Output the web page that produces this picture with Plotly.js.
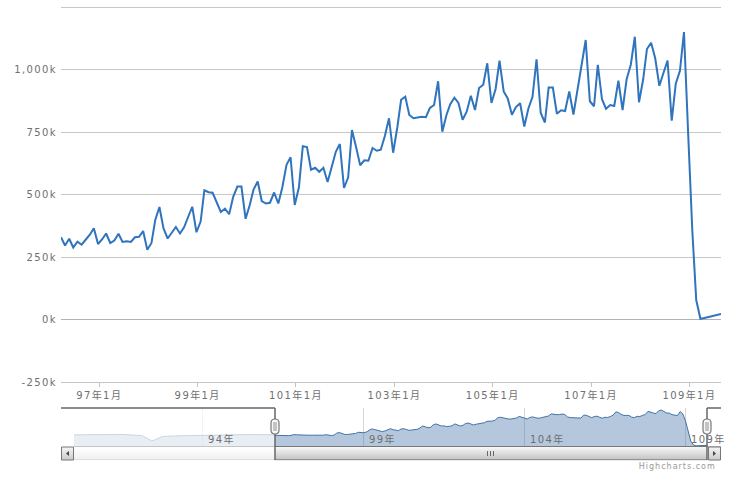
<!DOCTYPE html>
<html><head><meta charset="utf-8">
<script src="https://cdn.plot.ly/plotly-3.0.1.min.js"></script>
<style>
html,body{margin:0;padding:0;background:#fff}
.xtick text,.ytick text,.annotation-text{letter-spacing:1.4px}
.annotation:last-child .annotation-text{letter-spacing:1px}
</style></head><body>
<div id="chart" style="width:740px;height:488px"></div>
<script>
const mainValues=[329,296,323,288,311,299,319,339,365,302,321,344,306,316,343,310,313,310,329,331,354,279,306,398,450,365,324,345,370,344,369,411,451,349,392,517,509,507,471,430,443,421,491,532,532,403,458,520,552,474,464,467,508,464,
529,619,649,458,529,693,690,599,607,591,607,550,609,671,702,526,569,758,689,617,637,635,686,675,679,735,805,667,769,879,891,818,805,807,811,809,846,858,953,751,818,861,887,866,799,831,895,838,926,939,1025,866,922,1035,
912,884,819,850,865,772,843,891,1041,826,788,928,928,823,837,834,912,820,918,1026,1118,873,853,1019,881,843,858,854,955,838,961,1019,1131,869,961,1082,1107,1046,935,985,1036,795,943,995,1150,
745,355,78,3,6,10,14,18,22];
const earlierValues=[330,335,340,345,340,335,345,350,345,340,335,340,350,355,345,340,345,350,345,340,335,345,350,340,330,320,290,240,170,140,165,225,265,285,290,295,300,305,300,295,300,310,315,310,305,315,320,325,320,315,320,330,325,320,330,335,330,325,335,340,335,330,335,345,340,335,345,350,340,335,345,360,350,340,335];
const xTickDates=["2008-01-10","2010-01-10","2012-01-10","2014-01-10","2016-01-10","2018-01-10","2020-01-10"];
const xTickLabels=["97年1月","99年1月","101年1月","103年1月","105年1月","107年1月","109年1月"];
const yTickValues=[-250,0,250,500,750,1000,1250];
const yTickLabels=["-250k","0k","250k","500k","750k","1,000k","\u00a0"];
const navTickDates=["2005-01-01","2010-01-01","2015-01-01","2020-01-01"];
const navTickLabels=["94年","99年","104年","109年"];

function monthDates(y,m,n){const out=[];for(let i=0;i<n;i++){const t=y*12+(m-1)+i;out.push(Math.floor(t/12)+"-"+String(t%12+1).padStart(2,"0")+"-01");}return out;}
const mainDates=monthDates(2007,4,mainValues.length);
// The navigator shows the same series grouped over three months, as the reference does.
const allValues=earlierValues.concat(mainValues);
const navValues=allValues.map((v,i)=>{const a=allValues.slice(Math.max(0,i-1),i+2);return a.reduce((s,q)=>s+q,0)/a.length;});
const navDates=monthDates(2001,1,navValues.length);

const W=740,H=488,mT=3,mB=27,mL=61,mR=19,pH=H-mT-mB,pW=W-mL-mR;
const py=y=>(H-mB-y)/pH, px=x=>(x-mL)/pW;
const rect=(x0,y0,x1,y1,fill,line,lw)=>({type:"rect",xref:"paper",yref:"paper",x0:px(x0),x1:px(x1),y0:py(y1),y1:py(y0),fillcolor:fill,line:{color:line||"rgba(0,0,0,0)",width:lw||0},layer:"above"});
const seg=(x0,y0,x1,y1,c,w)=>({type:"line",xref:"paper",yref:"paper",x0:px(x0),x1:px(x1),y0:py(y0),y1:py(y1),line:{color:c,width:w},layer:"above"});
const tri=(pts,c)=>({type:"path",xref:"paper",yref:"paper",path:"M"+pts.map(p=>px(p[0])+" "+py(p[1])).join("L")+"Z",fillcolor:c,line:{width:0},layer:"above"});
const pill=(x,y0,y1,hw,fill,line)=>{const P=(a,b)=>px(a)+" "+py(b);const r=hw;
 return {type:"path",xref:"paper",yref:"paper",path:"M"+P(x-hw,y0+r)+"Q"+P(x-hw,y0)+" "+P(x,y0)+"Q"+P(x+hw,y0)+" "+P(x+hw,y0+r)+"L"+P(x+hw,y1-r)+"Q"+P(x+hw,y1)+" "+P(x,y1)+"Q"+P(x-hw,y1)+" "+P(x-hw,y1-r)+"Z",fillcolor:fill,line:{color:line,width:1.2},layer:"above"};};
const selL=275,selR=707;
const shapes=[];
shapes.push(rect(74,408,selL,446,"rgba(255,255,255,0.7)"));
shapes.push(rect(selR,408,707.5,446,"rgba(255,255,255,0.7)"));
for(let i=0;i<13;i++){const v=Math.round(255-i*1.3);shapes.push(rect(74,447+i,selL,448+i,`rgb(${v},${v},${v})`));}
shapes.push(seg(74,446.5,selL,446.5,"#c4c4c4",1));
shapes.push(seg(74,459.5,selL,459.5,"#dcdcdc",1));
shapes.push(seg(selR,446.5,721,446.5,"#c4c4c4",1));
for(let i=0;i<13;i++){const v=Math.round(246-i*4.2);shapes.push(rect(selL,447+i,selR,448+i,`rgb(${v},${v},${v})`));}
shapes.push(seg(selL,446.5,selR,446.5,"#777",1));
shapes.push(seg(selL,459.7,selR,459.7,"#888",1));
[487.5,490.5,493.5].forEach(x=>shapes.push(seg(x,451,x,456,"#666",1)));
[[61,74],[708,721]].forEach(b=>{for(let i=0;i<13;i++){const v=Math.round(244-i*3.4);shapes.push(rect(b[0],447+i,b[1],448+i,`rgb(${v},${v},${v})`));}
shapes.push(rect(b[0]+.5,447,b[1]-.5,460,"rgba(0,0,0,0)","#777",1));});
shapes.push(tri([[69,451],[69,456],[66,453.5]],"#444"));
shapes.push(tri([[713,451],[713,456],[716,453.5]],"#444"));
shapes.push(seg(61,408,selL,408,"#666",1.5));
shapes.push(seg(selL,408,selL,460,"#666",1.5));
shapes.push(seg(721,408,selR,408,"#666",1.5));
shapes.push(seg(selR,408,selR,460,"#666",1.5));
[selL,selR].forEach(x=>{
 shapes.push(pill(x,419,434,4,"#f8f8f8","#777"));
 shapes.push(rect(x-2,422,x+2,431,"#c4c4c4"));
});

const data=[
 {x:navDates,y:navValues,xaxis:"x2",yaxis:"y2",type:"scatter",mode:"lines",line:{color:"#4572A7",width:1},fill:"tozeroy",fillcolor:"rgba(69,114,167,0.4)",hoverinfo:"skip",showlegend:false},
 {x:mainDates,y:mainValues,xaxis:"x",yaxis:"y",type:"scatter",mode:"lines",line:{color:"#2f74bd",width:2},hoverinfo:"x+y",showlegend:false}
];
const tickFont={family:'"DejaVu Sans","Noto Sans CJK TC",sans-serif',size:10,color:"#6f6f6f"};
const layout={
 width:W,height:H,paper_bgcolor:"#fff",plot_bgcolor:"#fff",showlegend:false,
 margin:{l:mL,r:mR,t:mT,b:mB,pad:0},
 xaxis:{type:"date",domain:[0,1],anchor:"y",range:[mainDates[0],mainDates[mainDates.length-1]],tickmode:"array",tickvals:xTickDates,ticktext:xTickLabels,showgrid:false,zeroline:false,showline:true,linecolor:"#c4c4c4",linewidth:1,ticks:"outside",ticklen:4,tickcolor:"#c4c4c4",tickfont:tickFont,tickangle:0},
 yaxis:{domain:[py(382),1],anchor:"x",range:[-250,1266],tickmode:"array",tickvals:yTickValues,ticktext:yTickLabels,gridcolor:"#c8c8c8",gridwidth:1.2,zeroline:true,zerolinecolor:"#aeb4ba",zerolinewidth:1.4,showline:false,tickfont:tickFont,ticks:"",ticklabelstandoff:3},
 xaxis2:{type:"date",domain:[px(74),px(707)],anchor:"y2",range:[navDates[0],navDates[navDates.length-1]],tickmode:"array",tickvals:navTickDates,ticktext:navTickLabels.map(()=>""),showgrid:true,gridcolor:"#d6d6d6",gridwidth:1,zeroline:false,showline:false,ticks:""},
 yaxis2:{domain:[py(446),py(408)],anchor:"x2",range:[0,1138],showgrid:false,zeroline:false,showline:false,showticklabels:false,ticks:""},
 shapes:shapes,
 annotations:navTickDates.map((d,i)=>({x:d,xref:"x2",yref:"paper",y:py(438.5),text:navTickLabels[i],showarrow:false,xanchor:"left",yanchor:"middle",xshift:3,font:tickFont})).concat([
  {x:1,xref:"paper",y:py(466),yref:"paper",text:"Highcharts.com",showarrow:false,xanchor:"right",yanchor:"middle",font:{family:'"DejaVu Sans",sans-serif',size:8,color:"#999"}}
 ])
};
Plotly.newPlot("chart",data,layout,{displayModeBar:false});
</script></body></html>
